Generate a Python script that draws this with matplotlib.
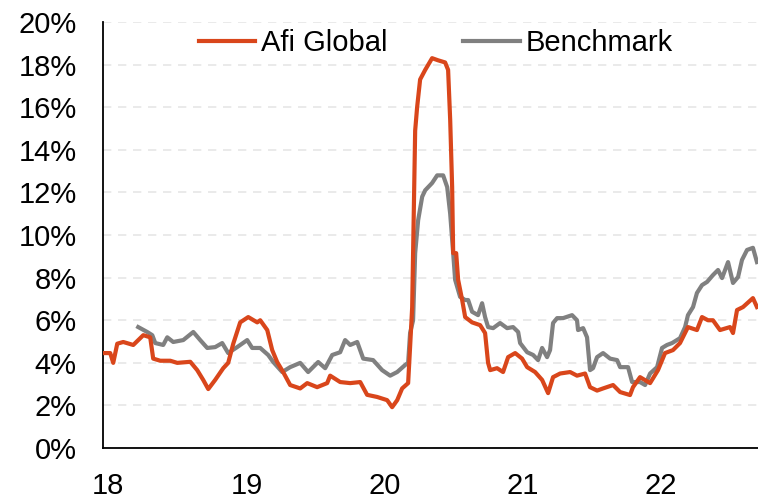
import matplotlib
matplotlib.use('Agg')
import matplotlib.pyplot as plt
from matplotlib.ticker import FuncFormatter

# x positions are months since Jan 2018, values in %
afi_months = [-0.4, 0.17, 0.43, 0.78, 1.3, 2.17, 3.04, 3.64, 3.9, 4.51, 5.38, 5.99, 7.12, 7.72,
              8.24, 8.68, 9.28, 9.98, 10.41, 10.85, 11.45, 12.15, 12.93, 13.19, 13.8, 14.23,
              14.66, 15.18, 15.79, 16.66, 17.27, 18.13, 19.0, 19.26, 20.13, 21.0, 21.87, 22.47,
              23.34, 24.21, 24.64, 25.08, 25.51, 26.03, 26.2, 26.38, 26.64, 26.81, 27.07, 27.51,
              28.11, 28.63, 29.24, 29.5, 29.68, 29.85, 29.94, 30.2, 30.37, 30.72, 30.98, 31.58,
              32.28, 32.71, 32.97, 33.15, 33.75, 34.27, 34.71, 35.32, 35.92, 36.36, 37.05, 37.66,
              38.18, 38.61, 39.22, 40.09, 40.69, 41.39, 41.82, 42.43, 42.95, 43.82, 44.43, 45.29,
              45.55, 46.16, 47.03, 47.72, 48.33, 49.02, 49.63, 50.32, 51.1, 51.54, 52.06, 52.49,
              53.1, 53.97, 54.23, 54.58, 55.1, 55.96, 56.31]
afi_vol = [4.46, 4.46, 4.0, 4.9, 4.98, 4.84, 5.3, 5.2, 4.2, 4.1, 4.1, 4.0, 4.05, 3.66,
           3.2, 2.77, 3.2, 3.75, 4.0, 4.9, 5.9, 6.15, 5.9, 6.0, 5.54, 4.6,
           4.04, 3.57, 2.96, 2.8, 3.05, 2.86, 3.05, 3.4, 3.1, 3.05, 3.1, 2.5,
           2.4, 2.25, 1.92, 2.25, 2.8, 3.05, 4.75, 6.6, 14.9, 16.0, 17.3, 17.75,
           18.3, 18.2, 18.1, 17.75, 15.4, 12.25, 9.15, 9.15, 7.9, 6.95, 6.15, 5.9,
           5.77, 5.4, 4.0, 3.66, 3.75, 3.57, 4.27, 4.46, 4.2, 3.8, 3.57, 3.2,
           2.58, 3.33, 3.5, 3.57, 3.4, 3.5, 2.86, 2.7, 2.8, 2.96, 2.63, 2.49,
           2.86, 3.33, 3.05, 3.66, 4.46, 4.6, 4.93, 5.68, 5.54, 6.15, 6.0, 6.0,
           5.54, 5.68, 5.4, 6.48, 6.62, 7.04, 6.62]

bench_months = [2.6, 3.38, 3.82, 4.08, 4.77, 5.12, 5.64, 6.51, 7.38, 7.98, 8.59, 9.28, 9.89,
                10.41, 11.19, 12.06, 12.49, 13.19, 13.88, 14.32, 15.1, 15.79, 16.66, 17.35,
                18.22, 18.83, 19.44, 20.13, 20.56, 21.0, 21.61, 22.13, 22.99, 23.77, 24.47,
                25.08, 25.77, 26.03, 26.2, 26.46, 26.64, 26.9, 27.25, 27.51, 28.11, 28.55,
                29.07, 29.42, 29.68, 29.94, 30.11, 30.54, 30.98, 31.24, 31.58, 32.1, 32.45,
                32.71, 32.97, 33.41, 34.01, 34.62, 35.14, 35.58, 35.75, 36.36, 36.88, 37.31,
                37.66, 38.09, 38.35, 38.61, 38.96, 39.48, 40.26, 40.69, 40.78, 41.22, 41.56,
                41.82, 42.08, 42.43, 42.95, 43.56, 44.17, 44.43, 45.12, 45.47, 46.16, 46.6,
                47.03, 47.64, 48.07, 48.5, 48.94, 49.63, 50.07, 50.32, 50.76, 51.1, 51.54,
                51.98, 52.49, 52.93, 53.28, 53.8, 54.23, 54.67, 55.01, 55.45, 55.96, 56.31]
bench_vol = [5.68, 5.45, 5.3, 4.93, 4.84, 5.2, 4.98, 5.07, 5.45, 5.07, 4.7, 4.74, 4.93,
             4.46, 4.74, 5.07, 4.7, 4.7, 4.37, 4.04, 3.57, 3.8, 4.0, 3.57,
             4.04, 3.75, 4.37, 4.5, 5.07, 4.84, 4.98, 4.2, 4.13, 3.66, 3.4,
             3.57, 3.9, 4.0, 5.4, 6.0, 9.15, 10.7, 11.8, 12.1, 12.44, 12.8,
             12.8, 12.25, 11.0, 9.15, 7.9, 7.1, 6.95, 6.95, 6.4, 6.24, 6.8,
             6.15, 5.68, 5.63, 5.87, 5.63, 5.68, 5.45, 4.93, 4.5, 4.37, 4.13,
             4.7, 4.27, 4.6, 5.87, 6.1, 6.1, 6.24, 6.0, 5.54, 5.63, 5.2,
             3.66, 3.75, 4.27, 4.46, 4.2, 4.13, 3.8, 3.8, 3.1, 3.1, 2.96,
             3.5, 3.8, 4.7, 4.84, 4.93, 5.16, 5.68, 6.24, 6.62, 7.28, 7.65,
             7.8, 8.12, 8.36, 7.98, 8.73, 7.75, 8.03, 8.83, 9.3, 9.4, 8.73]

year_ticks = [0, 12, 24, 36, 48]
year_labels = ['18', '19', '20', '21', '22']

plt.rcParams['font.family'] = ['Liberation Sans', 'DejaVu Sans']

fig = plt.figure(figsize=(7.58, 4.99), dpi=100)
ax = fig.add_axes([0.136, 0.102, 0.864, 0.854])

ax.plot(afi_months, afi_vol, color='#D9461B', linewidth=3.0, label='Afi Global', zorder=3)
ax.plot(bench_months, bench_vol, color='#808080', linewidth=3.0, label='Benchmark', zorder=2)

ax.set_xlim(-0.45, 56.4)
ax.set_ylim(0, 20)
ax.set_yticks(range(0, 21, 2))
ax.yaxis.set_major_formatter(FuncFormatter(lambda v, p: f'{int(v)}%'))
ax.set_xticks(year_ticks)
ax.set_xticklabels(year_labels)
ax.tick_params(axis='both', length=0, labelsize=21, colors='black')
ax.tick_params(axis='y', pad=19)
ax.tick_params(axis='x', pad=17)

ax.grid(axis='y', color='#e6e6e6', linestyle=(0, (5, 4)), linewidth=1.2, zorder=0)
for s in ['top', 'right']:
    ax.spines[s].set_visible(False)
for s in ['left', 'bottom']:
    ax.spines[s].set_linewidth(1.3)
    ax.spines[s].set_color('black')

ax.legend(loc='center', bbox_to_anchor=(0.508, 0.951), ncol=2, frameon=False,
          fontsize=21, handlelength=1.93, columnspacing=2.6, handletextpad=0.2,
          borderpad=0)

plt.savefig('out.png', dpi=100)
